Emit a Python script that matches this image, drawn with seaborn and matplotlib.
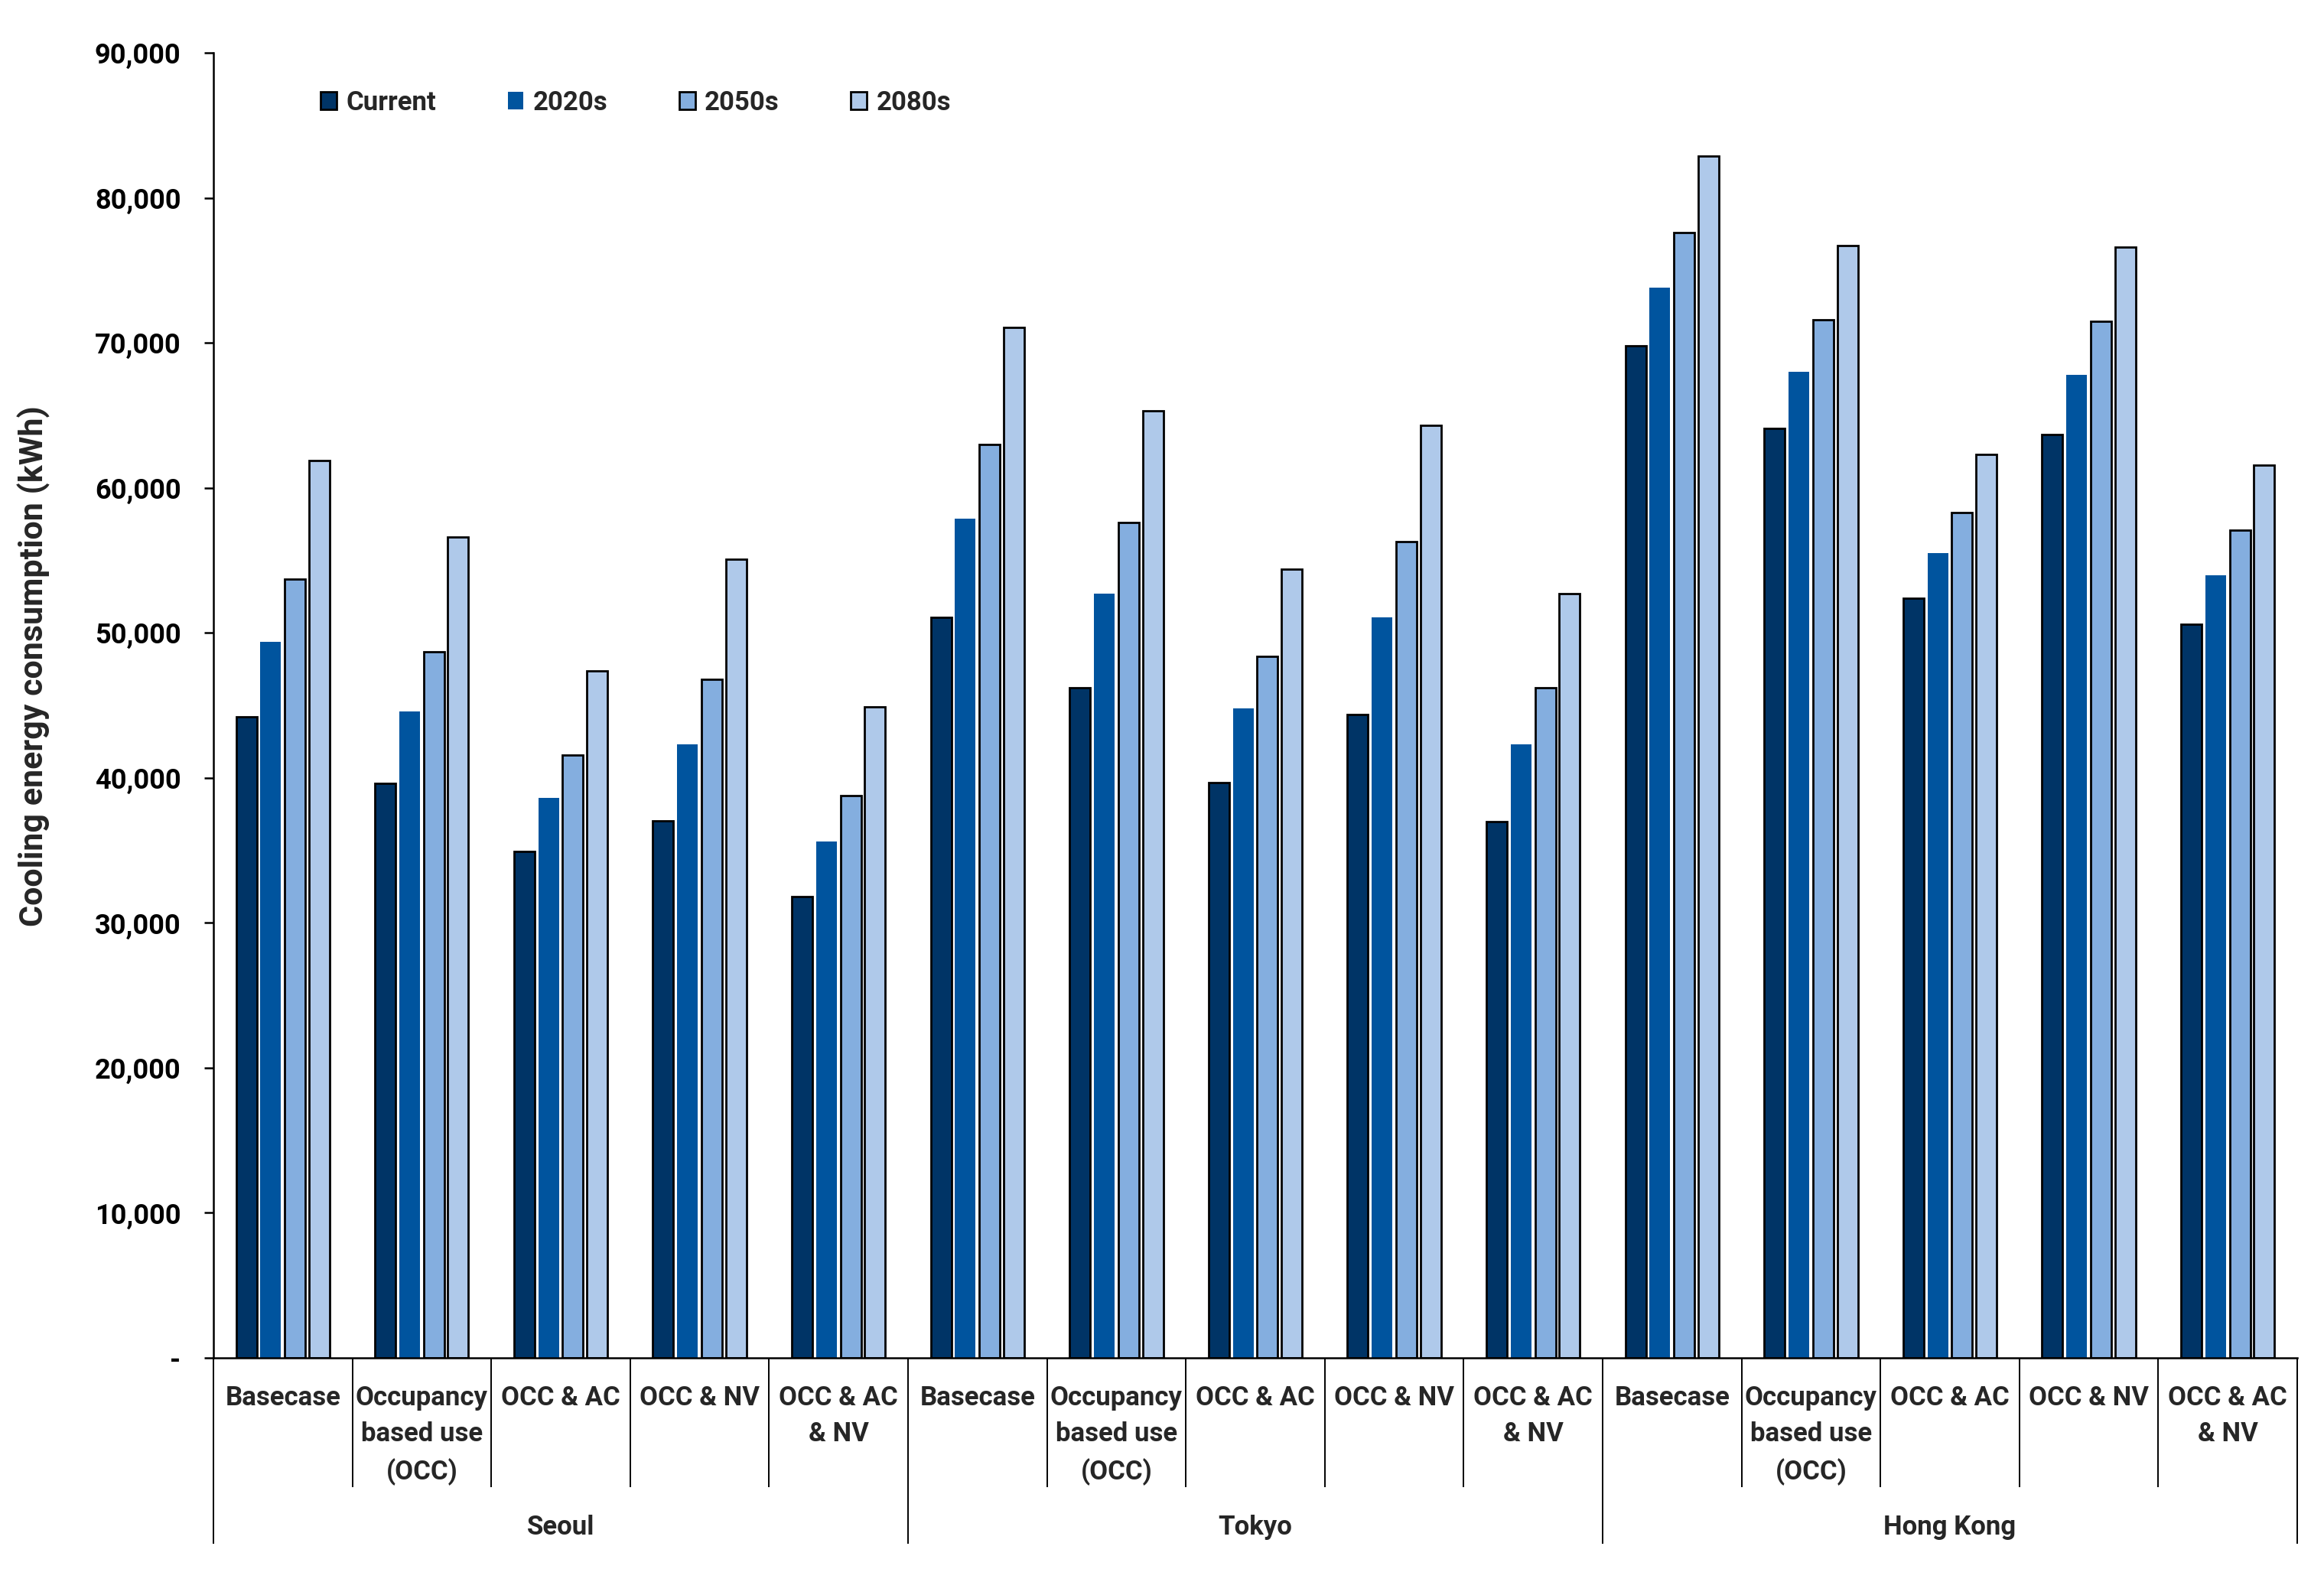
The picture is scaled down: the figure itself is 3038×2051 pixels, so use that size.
# plot.py
# Cooling energy consumption by city, scenario and climate period
# (grouped bars with a two-level category axis, Excel style)

import matplotlib
matplotlib.use('Agg')
import matplotlib.pyplot as plt
import matplotlib.transforms as mtransforms
from matplotlib.ticker import FuncFormatter
import pandas as pd
import seaborn as sns

# ── data ────────────────────────────────────────────────────────────────
cities    = ['Seoul', 'Tokyo', 'Hong Kong']
scenarios = ['Basecase', 'Occupancy\nbased use\n(OCC)', 'OCC & AC',
             'OCC & NV', 'OCC & AC\n& NV']
periods   = ['Current', '2020s', '2050s', '2080s']

# one value per (city, scenario), cities in order above
current = [44200, 39600, 34950, 37050, 31800,
           51100, 46200, 39700, 44400, 37000,
           69800, 64100, 52400, 63700, 50600]
y2020s  = [49400, 44600, 38600, 42300, 35600,
           57900, 52700, 44800, 51100, 42300,
           73800, 68000, 55500, 67800, 54000]
y2050s  = [53700, 48700, 41600, 46800, 38800,
           63000, 57600, 48400, 56300, 46200,
           77600, 71600, 58300, 71500, 57100]
y2080s  = [61900, 56600, 47400, 55100, 44900,
           71100, 65300, 54400, 64300, 52700,
           82900, 76700, 62300, 76600, 61600]

colors = ['#003466', '#00549E', '#84AEDF', '#AFC9EA']

# ── long table for seaborn ──────────────────────────────────────────────
cases = [f'{c}|{s}' for c in cities for s in scenarios]
rows = []
for period, vals in zip(periods, [current, y2020s, y2050s, y2080s]):
    for case, v in zip(cases, vals):
        rows.append({'case': case, 'period': period, 'kwh': v})
df = pd.DataFrame(rows)

# ── style ───────────────────────────────────────────────────────────────
sns.set_style('white')
plt.rcParams['font.family'] = ['Roboto', 'DejaVu Sans']
plt.rcParams['font.weight'] = 'bold'
plt.rcParams['axes.labelweight'] = 'bold'

fig = plt.figure(figsize=(15.19, 10.255), dpi=200)
ax = fig.add_axes([0.0918, 0.1346, 0.8967, 0.8316])

sns.barplot(data=df, x='case', y='kwh', hue='period',
            order=cases, hue_order=periods, palette=colors,
            width=0.7, gap=0.15, saturation=1, errorbar=None,
            edgecolor='black', linewidth=1.0, legend=False, ax=ax)

# the 2020s series has no outline in the original
for bar in ax.containers[1]:
    bar.set_edgecolor('none')

# ── axes ────────────────────────────────────────────────────────────────
ax.set_ylim(0, 90000)
ax.set_xlim(-0.5, len(cases) - 0.5)
ax.set_yticks(range(0, 90001, 10000))
ax.yaxis.set_major_formatter(
    FuncFormatter(lambda v, _: '-' if v == 0 else f'{v:,.0f}'))
ax.tick_params(axis='y', direction='out', length=4.3, width=0.9,
               pad=11, labelsize=13, left=True, colors='black')
ax.tick_params(axis='x', length=0, labelbottom=False)
ax.set_xlabel('')
ax.set_ylabel('Cooling energy consumption (kWh)', fontsize=15.5)
ax.yaxis.set_label_coords(-0.078, 0.53)

for side in ['top', 'right']:
    ax.spines[side].set_visible(False)
for side in ['left', 'bottom']:
    ax.spines[side].set_color('black')
    ax.spines[side].set_linewidth(0.9)

# ── two-level category axis ─────────────────────────────────────────────
trans = mtransforms.blended_transform_factory(ax.transData, ax.transAxes)
n_sc = len(scenarios)

for i, case in enumerate(cases):
    ax.text(i, -0.021, scenarios[i % n_sc], transform=trans,
            ha='center', va='top', fontsize=12.5, linespacing=1.55)

for k, city in enumerate(cities):
    ax.text(k * n_sc + (n_sc - 1) / 2, -0.130, city, transform=trans,
            ha='center', va='center', fontsize=12.5)

for k in range(len(cases) + 1):
    x = k - 0.5
    y_end = -0.1425 if k % n_sc == 0 else -0.099
    ax.plot([x, x], [0, y_end], transform=trans, color='black',
            lw=0.7, clip_on=False, solid_capstyle='butt')

# ── legend ──────────────────────────────────────────────────────────────
ax.legend(ax.containers, periods, loc='center left',
          bbox_to_anchor=(0.04, 0.962), ncol=4, frameon=False,
          handlelength=0.6, handleheight=0.65, handletextpad=0.35,
          columnspacing=2.7, prop={'weight': 'bold', 'size': 12.5})

plt.savefig('out.png', dpi=200)
plt.close()
print('saved -> out.png')
